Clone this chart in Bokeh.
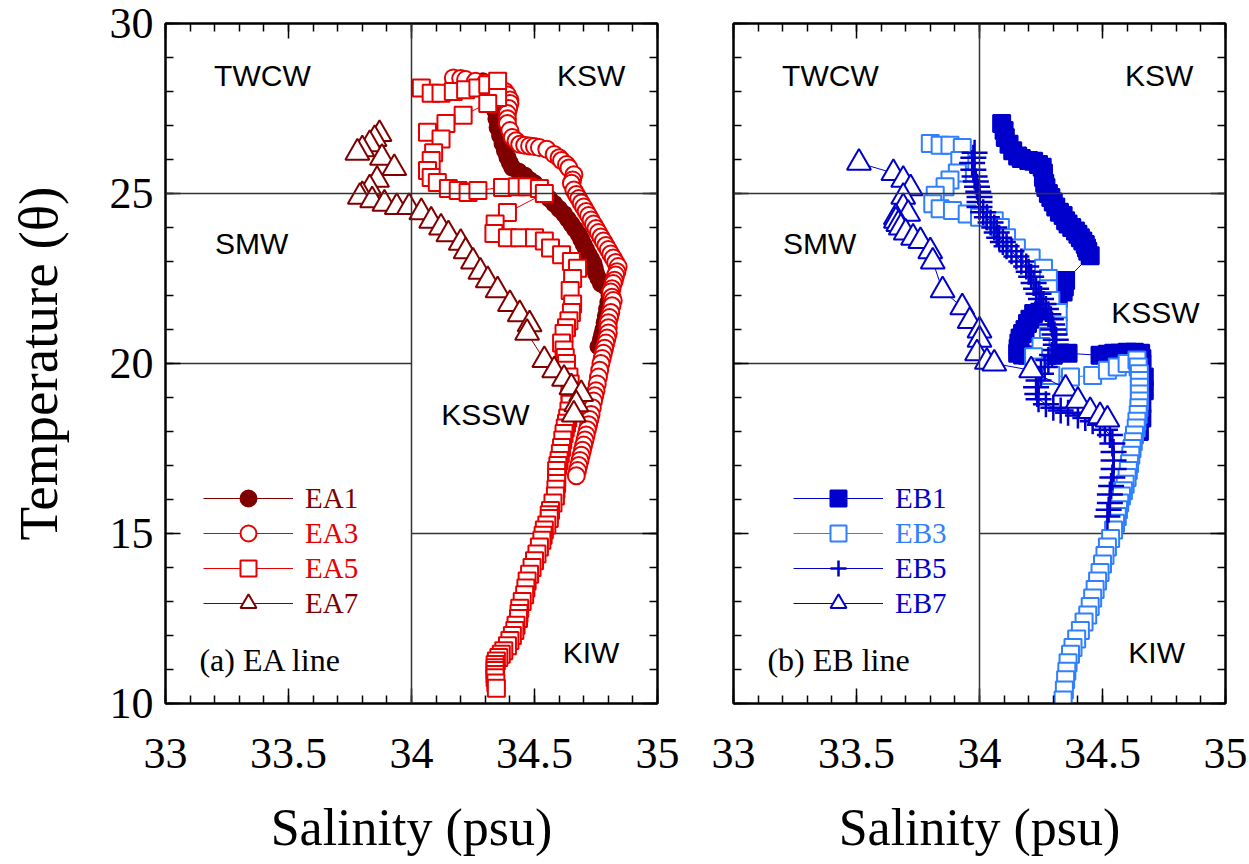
from bokeh.plotting import figure
from bokeh.layouts import row
from bokeh.models import (Range1d, LinearAxis, SingleIntervalTicker, CustomJSTickFormatter,
                          Span, Label, Legend, LegendItem, ColumnDataSource)
from bokeh.embed import file_html
from bokeh.resources import INLINE

SERIF = "Liberation Serif"
SANS = "Liberation Sans"

# ---------------- data (salinity psu, potential temperature) ----------------
EA1_S = [34.29, 34.31, 34.33, 34.335, 34.34, 34.345, 34.35, 34.36, 34.37, 34.38, 34.39, 34.40, 34.41,
         34.435, 34.46, 34.48, 34.50, 34.52, 34.54, 34.56, 34.58, 34.60, 34.62, 34.635, 34.65, 34.665,
         34.68, 34.69, 34.70, 34.71, 34.72, 34.73, 34.74, 34.745, 34.75, 34.76, 34.77, 34.79, 34.81,
         34.805, 34.80, 34.795, 34.79, 34.785, 34.78, 34.775, 34.77, 34.76]
EA1_T = [28.3, 28.1, 27.94, 27.7, 27.44, 27.2, 26.94, 26.7, 26.47, 26.25, 26.06, 25.9, 25.76,
         25.65, 25.53, 25.4, 25.3, 25.15, 25.0, 24.85, 24.7, 24.55, 24.4, 24.25, 24.1, 23.95,
         23.8, 23.65, 23.5, 23.35, 23.2, 23.07, 22.94, 22.8, 22.65, 22.5, 22.35, 22.25, 22.15,
         22.0, 21.8, 21.6, 21.4, 21.2, 21.0, 20.85, 20.7, 20.5]

EA3_S = [34.17, 34.20, 34.22, 34.26, 34.30, 34.35, 34.38, 34.39, 34.40, 34.40, 34.395, 34.39, 34.39,
         34.39, 34.40, 34.41, 34.425, 34.44, 34.46, 34.48, 34.50, 34.52, 34.55, 34.58, 34.60, 34.61,
         34.63, 34.64, 34.66, 34.655, 34.65, 34.66, 34.67, 34.68, 34.69, 34.70, 34.71, 34.72, 34.73,
         34.74, 34.75, 34.76, 34.77, 34.78, 34.79, 34.80, 34.81, 34.82, 34.83,
         34.84, 34.835, 34.83, 34.825, 34.82, 34.815, 34.81, 34.815, 34.82, 34.815, 34.81, 34.805,
         34.80, 34.80, 34.80, 34.795, 34.79, 34.785, 34.78, 34.775, 34.77, 34.765, 34.76, 34.755,
         34.75, 34.745, 34.74, 34.735, 34.73, 34.725, 34.72, 34.715, 34.71, 34.705, 34.70, 34.695,
         34.69, 34.685, 34.68, 34.675, 34.67]
EA3_T = [28.4, 28.38, 28.35, 28.3, 28.25, 28.15, 28.0, 27.9, 27.75, 27.65, 27.5, 27.35, 27.2,
         27.06, 26.85, 26.65, 26.55, 26.45, 26.42, 26.4, 26.38, 26.35, 26.3, 26.15, 26.05, 25.97,
         25.85, 25.75, 25.55, 25.4, 25.3, 25.1, 24.97, 24.85, 24.72, 24.6, 24.47, 24.35, 24.22,
         24.1, 23.97, 23.85, 23.72, 23.6, 23.47, 23.35, 23.22, 23.1, 22.97,
         22.85, 22.7, 22.6, 22.45, 22.35, 22.2, 22.1, 21.95, 21.85, 21.7, 21.5, 21.35,
         21.2, 21.05, 20.9, 20.75, 20.6, 20.45, 20.3, 20.15, 20.0, 19.8, 19.6, 19.4,
         19.2, 19.05, 18.9, 18.7, 18.5, 18.35, 18.2, 18.05, 17.9, 17.75, 17.6, 17.45,
         17.3, 17.15, 17.0, 16.85, 16.7]

EA5_S = [34.04, 34.08, 34.12, 34.17, 34.22, 34.27, 34.31, 34.35, 34.35, 34.31, 34.21, 34.14, 34.065,
         34.12, 34.09, 34.08, 34.065, 34.08, 34.105, 34.15, 34.19, 34.23, 34.27, 34.37, 34.43, 34.47,
         34.52, 34.54, 34.39, 34.34, 34.335, 34.39, 34.44, 34.50, 34.54, 34.565, 34.61, 34.65, 34.675,
         34.655, 34.645, 34.655,
         34.65, 34.64, 34.63, 34.62, 34.61, 34.62, 34.625, 34.63, 34.63, 34.64, 34.645, 34.645,
         34.645, 34.645, 34.64, 34.635, 34.63, 34.625, 34.62, 34.615, 34.61, 34.605, 34.60, 34.595,
         34.59, 34.59, 34.59, 34.587, 34.585, 34.575, 34.565, 34.56, 34.56, 34.55, 34.54, 34.535,
         34.53, 34.52, 34.51, 34.50, 34.49, 34.48, 34.47, 34.465, 34.46, 34.45, 34.44, 34.437,
         34.435, 34.425, 34.42, 34.41, 34.40, 34.39, 34.375, 34.365, 34.355, 34.345, 34.34, 34.34,
         34.34, 34.34, 34.34, 34.343, 34.345]
EA5_T = [28.1, 27.95, 27.95, 28.0, 28.05, 28.1, 28.2, 28.3, 27.82, 27.65, 27.3, 27.06, 26.8,
         26.6, 26.2, 25.97, 25.68, 25.47, 25.32, 25.15, 25.09, 25.03, 25.09, 25.18, 25.2, 25.2,
         25.15, 25.0, 24.44, 24.1, 23.82, 23.7, 23.7, 23.7, 23.6, 23.4, 23.2, 23.0, 22.8,
         22.5, 22.15, 21.75,
         21.5, 21.26, 21.05, 20.88, 20.6, 20.4, 20.18, 20.0, 19.8, 19.6, 19.4, 19.2,
         19.0, 18.8, 18.6, 18.4, 18.24, 18.1, 17.94, 17.75, 17.53, 17.35, 17.15, 17.0,
         16.85, 16.65, 16.47, 16.3, 16.1, 15.9, 15.68, 15.55, 15.44, 15.25, 15.1, 14.95,
         14.8, 14.6, 14.4, 14.2, 14.0, 13.8, 13.6, 13.4, 13.2, 13.0, 12.8, 12.65,
         12.5, 12.3, 12.15, 12.0, 11.85, 11.7, 11.55, 11.45, 11.35, 11.25, 11.15, 11.05,
         10.97, 10.85, 10.76, 10.6, 10.45]

EA7_S = [33.87, 33.85, 33.83, 33.80, 33.78, 33.88, 33.93, 33.86, 33.83, 33.80, 33.79, 33.84, 33.89,
         33.94, 33.99, 34.04, 34.08, 34.12, 34.15, 34.20, 34.22, 34.25, 34.28, 34.31, 34.35, 34.40,
         34.44, 34.48, 34.47, 34.54, 34.58, 34.62, 34.65, 34.69, 34.67, 34.66]
EA7_T = [26.75, 26.6, 26.45, 26.3, 26.2, 26.05, 25.75, 25.4, 25.15, 24.95, 24.9, 24.8, 24.7,
         24.6, 24.6, 24.45, 24.2, 24.0, 23.8, 23.55, 23.3, 23.0, 22.7, 22.45, 22.15, 21.75,
         21.45, 21.15, 20.9, 20.1, 19.8, 19.55, 19.3, 19.1, 18.8, 18.5]

EB1_S = [34.09, 34.10, 34.105, 34.12, 34.135, 34.155, 34.17, 34.20, 34.22, 34.24, 34.255, 34.26, 34.26,
         34.265, 34.27, 34.28, 34.29, 34.30, 34.31, 34.325, 34.34, 34.35, 34.36, 34.375, 34.39, 34.40,
         34.41, 34.42, 34.43, 34.435, 34.44, 34.45,
         34.35, 34.345, 34.34, 34.32, 34.30, 34.28, 34.26, 34.22, 34.205, 34.195, 34.185, 34.175,
         34.165, 34.16, 34.157, 34.155, 34.175, 34.195, 34.22, 34.25, 34.275, 34.30, 34.36,
         34.49, 34.52, 34.545, 34.57, 34.60, 34.63, 34.655, 34.66, 34.66, 34.67, 34.67, 34.66,
         34.66, 34.65]
EB1_T = [27.06, 26.85, 26.65, 26.45, 26.26, 26.1, 26.03, 25.97, 25.95, 25.85, 25.77, 25.6, 25.47,
         25.3, 25.18, 25.0, 24.88, 24.75, 24.6, 24.45, 24.35, 24.2, 24.1, 24.0, 23.9, 23.8,
         23.7, 23.6, 23.5, 23.4, 23.3, 23.17,
         22.44, 22.25, 22.1, 21.9, 21.76, 21.65, 21.56, 21.47, 21.3, 21.18, 21.0, 20.88,
         20.75, 20.6, 20.45, 20.3, 20.25, 20.24, 20.24, 20.24, 20.24, 20.24, 20.3,
         20.24, 20.27, 20.3, 20.3, 20.33, 20.33, 20.3, 20.15, 20.0, 19.6, 19.2, 18.8,
         18.4, 18.0]

EB3_S = [33.80, 33.84, 33.88, 33.93, 33.92, 33.91, 33.88, 33.86, 33.82, 33.81, 33.84, 33.89, 33.95,
         34.00, 34.06, 34.085, 34.11, 34.15, 34.21, 34.26, 34.28, 34.28, 34.29, 34.32, 34.32, 34.28,
         34.25, 34.22, 34.24, 34.29, 34.37, 34.46, 34.52, 34.56, 34.60, 34.64,
         34.645, 34.65, 34.65, 34.65, 34.65, 34.65, 34.648, 34.645, 34.64, 34.637, 34.63, 34.625,
         34.62, 34.615, 34.61, 34.605, 34.60, 34.592, 34.585, 34.577, 34.57, 34.565, 34.56, 34.553,
         34.545, 34.533, 34.52, 34.51, 34.50, 34.49, 34.48, 34.47, 34.46, 34.45, 34.44, 34.425,
         34.41, 34.395, 34.38, 34.37, 34.36, 34.355, 34.35, 34.345, 34.34]
EB3_T = [26.47, 26.42, 26.42, 26.35, 25.97, 25.6, 25.4, 25.2, 24.95, 24.7, 24.55, 24.5, 24.4,
         24.3, 24.2, 24.0, 23.7, 23.4, 23.1, 22.8, 22.5, 22.2, 21.85, 21.5, 21.1, 20.8,
         20.5, 20.2, 19.9, 19.65, 19.6, 19.65, 19.8, 19.9, 20.0, 20.1,
         19.9, 19.7, 19.5, 19.3, 19.1, 18.9, 18.7, 18.5, 18.3, 18.1, 17.9, 17.7,
         17.5, 17.3, 17.05, 16.85, 16.65, 16.45, 16.26, 16.1, 15.9, 15.7, 15.5, 15.3,
         15.1, 14.85, 14.6, 14.35, 14.1, 13.85, 13.6, 13.35, 13.1, 12.85, 12.6, 12.4,
         12.15, 11.9, 11.65, 11.45, 11.2, 10.95, 10.7, 10.4, 10.1]

EB5_S = [33.98, 33.975, 33.97, 33.975, 33.98, 33.985, 33.99, 33.995, 34.00, 34.00, 34.00, 34.015, 34.03,
         34.045, 34.06, 34.07, 34.08, 34.095, 34.11, 34.13, 34.15, 34.17, 34.19, 34.20, 34.21, 34.22,
         34.23, 34.24, 34.25, 34.26, 34.27, 34.28, 34.29, 34.295, 34.30, 34.305, 34.31, 34.31, 34.31,
         34.295, 34.28, 34.265, 34.25, 34.24, 34.23, 34.235, 34.24, 34.27, 34.30, 34.33, 34.36, 34.40,
         34.43, 34.46, 34.49, 34.51, 34.53, 34.54, 34.545, 34.545, 34.545, 34.54, 34.535, 34.53, 34.53,
         34.525, 34.52]
EB5_T = [26.2, 26.05, 25.9, 25.7, 25.5, 25.35, 25.2, 25.05, 24.9, 24.75, 24.6, 24.45, 24.3,
         24.15, 24.0, 23.85, 23.7, 23.57, 23.45, 23.3, 23.15, 23.0, 22.85, 22.7, 22.55, 22.37,
         22.2, 22.05, 21.9, 21.75, 21.6, 21.45, 21.3, 21.15, 21.0, 20.85, 20.7, 20.55, 20.4,
         20.25, 20.1, 19.9, 19.7, 19.5, 19.3, 19.1, 18.95, 18.8, 18.7, 18.62, 18.55, 18.47,
         18.4, 18.3, 18.2, 18.05, 17.9, 17.65, 17.4, 17.15, 16.9, 16.65, 16.4, 16.15, 15.9,
         15.7, 15.5]

EB7_S = [33.51, 33.65, 33.69, 33.72, 33.69, 33.69, 33.71, 33.66, 33.66, 33.67, 33.68, 33.70, 33.73,
         33.76, 33.80, 33.81, 33.85, 33.93, 33.96, 34.00, 34.00, 33.99, 34.03, 34.06, 34.21, 34.35,
         34.40, 34.45, 34.49, 34.52]
EB7_T = [25.9, 25.6, 25.4, 25.15, 24.9, 24.6, 24.4, 24.3, 24.2, 24.1, 24.0, 23.85, 23.7,
         23.6, 23.3, 23.0, 22.15, 21.65, 21.25, 20.97, 20.7, 20.3, 20.05, 20.0, 19.8, 19.26,
         18.9, 18.6, 18.45, 18.35]

SERIES_A = ["EA1", "EA3", "EA5", "EA7"]
SERIES_B = ["EB1", "EB3", "EB5", "EB7"]

X_TICK_LABELS = {33: "33", 33.5: "33.5", 34: "34", 34.5: "34.5", 35: "35"}
Y_TICK_LABELS = {10: "10", 15: "15", 20: "20", 25: "25", 30: "30"}

# water-mass boundaries
BOUND_S = 34.0
BOUND_T = 25.0
SEG_X0 = [33.0, 34.0]
SEG_X1 = [34.0, 35.0]
SEG_T = [20.0, 15.0]

REGION_NAMES_A = ["TWCW", "KSW", "SMW", "KSSW", "KIW"]
REGION_S_A = [33.394, 34.73, 33.35, 34.30, 34.73]
REGION_T_A = [28.47, 28.47, 23.53, 18.5, 11.5]
REGION_NAMES_B = ["TWCW", "KSW", "SMW", "KSSW", "KIW"]
REGION_S_B = [33.394, 34.73, 33.35, 34.715, 34.72]
REGION_T_B = [28.47, 28.47, 23.53, 21.5, 11.5]

DARK_RED = "#800000"
RED = "#e60000"
DARK_BLUE = "#0000cc"
LIGHT_BLUE = "#2f7fff"

STYLE = {
    "EA1": dict(S=EA1_S, T=EA1_T, color=DARK_RED, marker="circle", size=16, fill=DARK_RED, lw=2),
    "EA3": dict(S=EA3_S, T=EA3_T, color=RED, marker="circle", size=17, fill="white", lw=2),
    "EA5": dict(S=EA5_S, T=EA5_T, color=RED, marker="square", size=17, fill="white", lw=2),
    "EA7": dict(S=EA7_S, T=EA7_T, color=DARK_RED, marker="triangle", size=24, fill="white", lw=2),
    "EB1": dict(S=EB1_S, T=EB1_T, color=DARK_BLUE, marker="square", size=17, fill=DARK_BLUE, lw=2),
    "EB3": dict(S=EB3_S, T=EB3_T, color=LIGHT_BLUE, marker="square", size=17, fill="white", lw=2),
    "EB5": dict(S=EB5_S, T=EB5_T, color=DARK_BLUE, marker="cross", size=26, fill=None, lw=2.5),
    "EB7": dict(S=EB7_S, T=EB7_T, color=DARK_BLUE, marker="triangle", size=24, fill="white", lw=2),
}


def style_axis(ax, labels=True, overrides=None):
    ax.axis_line_width = 2
    ax.axis_line_color = "black"
    ax.major_tick_in = 15
    ax.major_tick_out = 0
    ax.minor_tick_in = 8
    ax.minor_tick_out = 0
    ax.major_tick_line_width = 1.5
    ax.minor_tick_line_width = 1.5
    ax.major_tick_line_color = "black"
    ax.minor_tick_line_color = "black"
    ax.major_label_text_font = SERIF
    ax.major_label_text_font_size = "44px"
    ax.major_label_text_color = "black"
    ax.axis_label_text_font = SERIF
    ax.axis_label_text_font_size = "52px"
    ax.axis_label_text_font_style = "normal"
    ax.axis_label_text_color = "black"
    if not labels:
        ax.formatter = CustomJSTickFormatter(code="return ''")
    elif overrides:
        ax.major_label_overrides = overrides


def make_panel(names, regions, panel_text, y_labels, legend_x, border_left, border_right):
    p = figure(x_range=Range1d(33, 35), y_range=Range1d(10, 30),
               frame_width=492, frame_height=680,
               min_border_left=border_left, min_border_right=border_right,
               min_border_top=23, min_border_bottom=161,
               output_backend="svg", toolbar_location=None,
               x_axis_label="Salinity (psu)",
               y_axis_label="Temperature (\u03b8)" if y_labels else None)
    p.xgrid.visible = False
    p.ygrid.visible = False
    p.outline_line_color = "black"
    p.outline_line_width = 2
    p.background_fill_color = "white"
    p.border_fill_color = "white"

    p.xaxis.ticker = SingleIntervalTicker(interval=0.5, num_minor_ticks=5)
    p.yaxis.ticker = SingleIntervalTicker(interval=5, num_minor_ticks=5)
    style_axis(p.xaxis[0], True, X_TICK_LABELS)
    style_axis(p.yaxis[0], y_labels, Y_TICK_LABELS)
    p.yaxis.axis_label_text_font_size = "55px"
    p.xaxis.major_label_standoff = 35
    p.xaxis.axis_label_standoff = 28
    p.yaxis.major_label_standoff = 12
    p.yaxis.axis_label_standoff = 38

    top = LinearAxis(ticker=SingleIntervalTicker(interval=0.5, num_minor_ticks=5))
    style_axis(top, False)
    p.add_layout(top, "above")
    right = LinearAxis(ticker=SingleIntervalTicker(interval=5, num_minor_ticks=5))
    style_axis(right, False)
    p.add_layout(right, "right")

    # boundaries
    p.add_layout(Span(location=BOUND_S, dimension="height", line_color="#333333", line_width=1.5))
    p.add_layout(Span(location=BOUND_T, dimension="width", line_color="#333333", line_width=1.5))
    p.segment(x0=SEG_X0, y0=SEG_T, x1=SEG_X1, y1=SEG_T, line_color="#333333", line_width=1.5)

    rn, rs, rt = regions
    for name, s, t in zip(rn, rs, rt):
        p.add_layout(Label(x=s, y=t, text=name, text_align="center", text_baseline="middle",
                           text_font=SANS, text_font_size="30px", text_color="black"))

    p.add_layout(Label(x=33.138, y=11.27, text=panel_text, text_align="left", text_baseline="middle",
                       text_font=SERIF, text_font_size="32px", text_color="black"))

    legend_y = [185, 150, 115, 80]
    for name, ly in zip(names, legend_y):
        st = STYLE[name]
        src = ColumnDataSource(dict(s=st["S"], t=st["T"]))
        lr = p.line("s", "t", source=src, line_color=st["color"], line_width=1)
        sr = p.scatter("s", "t", source=src, marker=st["marker"], size=st["size"],
                       line_color=st["color"], fill_color=st["fill"], line_width=st["lw"])
        leg = Legend(items=[LegendItem(label=name, renderers=[lr, sr])],
                     location=(legend_x, ly), glyph_width=90, glyph_height=40,
                     label_height=40, label_standoff=12, label_text_font=SERIF,
                     label_text_font_size="29px", label_text_color=st["color"],
                     padding=0, margin=0, spacing=0, border_line_alpha=0,
                     background_fill_alpha=0)
        p.add_layout(leg)
    return p


p1 = make_panel(SERIES_A, (REGION_NAMES_A, REGION_S_A, REGION_T_A), "(a) EA line", True, 38, 165, 30)
p2 = make_panel(SERIES_B, (REGION_NAMES_B, REGION_S_B, REGION_T_B), "(b) EB line", False, 60, 46, 24)

layout = row(p1, p2)
open("out.html", "w").write(file_html(layout, INLINE))
